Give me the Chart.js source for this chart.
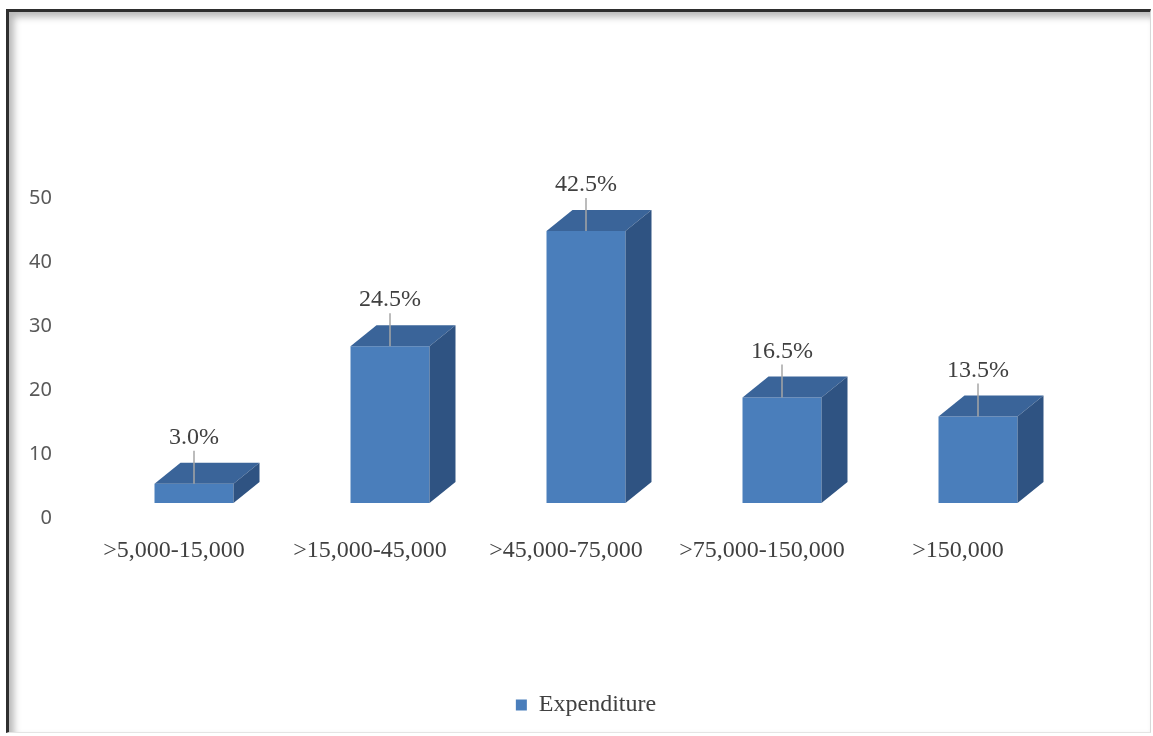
<!DOCTYPE html>
<html>
<head>
<meta charset="utf-8">
<script src="https://cdn.jsdelivr.net/npm/chart.js@4.4.1/dist/chart.umd.min.js"></script>
<style>
  html, body { margin: 0; padding: 0; background: #ffffff; }
  #wrap { position: relative; width: 1153px; height: 736px; overflow: hidden; }
  #frame {
    position: absolute; left: 6px; top: 9px; right: 2px; bottom: 3px;
    border-top: 3px solid #2e2e2e; border-left: 3px solid #2e2e2e;
    border-right: 1px solid #d8d8d8; border-bottom: 1px solid #e4e4e4;
    box-shadow: inset 5px 5px 7px rgba(0,0,0,0.28);
  }
  canvas { position: absolute; left: 0; top: 0; }
</style>
</head>
<body>
<div id="wrap">
  <div id="frame"></div>
  <canvas id="c" width="1153" height="736"></canvas>
</div>
<script>
const categories = ['>5,000-15,000', '>15,000-45,000', '>45,000-75,000', '>75,000-150,000', '>150,000'];
const expenditure = [3.0, 24.5, 42.5, 16.5, 13.5];
const seriesName = 'Expenditure';
const yMin = 0, yMax = 50, yStep = 10;

const FRONT = '#4A7EBB', TOP = '#3A6499', SIDE = '#2F5382';
const DX = 26, DY = 21;

const bar3d = {
  id: 'bar3d',
  afterDatasetsDraw(chart) {
    const ctx = chart.ctx;
    const meta = chart.getDatasetMeta(0);
    const data = chart.data.datasets[0].data;
    meta.data.forEach((el, i) => {
      const p = el.getProps(['x', 'y', 'base', 'width'], true);
      const l = p.x - p.width / 2, r = p.x + p.width / 2, t = p.y, b = p.base;
      ctx.save();
      ctx.fillStyle = TOP;
      ctx.beginPath();
      ctx.moveTo(l, t); ctx.lineTo(r, t); ctx.lineTo(r + DX, t - DY); ctx.lineTo(l + DX, t - DY); ctx.closePath();
      ctx.fill();
      ctx.fillStyle = SIDE;
      ctx.beginPath();
      ctx.moveTo(r, t); ctx.lineTo(r + DX, t - DY); ctx.lineTo(r + DX, b - DY); ctx.lineTo(r, b); ctx.closePath();
      ctx.fill();
      ctx.strokeStyle = '#a6a6a6';
      ctx.lineWidth = 1.5;
      ctx.beginPath();
      ctx.moveTo(p.x, t - 33); ctx.lineTo(p.x, t);
      ctx.stroke();
      ctx.fillStyle = '#404040';
      ctx.font = '24px "Liberation Serif", "Times New Roman", serif';
      ctx.textAlign = 'center';
      ctx.textBaseline = 'middle';
      ctx.fillText(Number(data[i]).toFixed(1) + '%', p.x, t - 46);
      ctx.restore();
    });
  }
};

new Chart(document.getElementById('c'), {
  type: 'bar',
  data: {
    labels: categories,
    datasets: [{
      label: seriesName,
      data: expenditure,
      backgroundColor: FRONT,
      borderWidth: 0,
      categoryPercentage: 1.0,
      barPercentage: 0.403
    }]
  },
  options: {
    responsive: false,
    animation: false,
    layout: { padding: { left: 0, right: 77, top: 183, bottom: 9 } },
    scales: {
      x: {
        grid: { display: false, drawTicks: false },
        border: { display: false },
        ticks: {
          color: '#404040',
          font: { family: '"Liberation Serif", "Times New Roman", serif', size: 24 },
          padding: 33,
          labelOffset: -20,
          maxRotation: 0,
          autoSkip: false
        },
        afterFit(s) { s.height = 180; }
      },
      y: {
        min: yMin, max: yMax,
        grid: { display: false, drawTicks: false },
        border: { display: false },
        ticks: {
          stepSize: yStep,
          color: '#595959',
          font: { family: '"Noto Sans", "Open Sans", sans-serif', size: 20 },
          padding: 44,
          labelOffset: 15
        },
        afterFit(s) { s.width = 96; }
      }
    },
    plugins: {
      legend: {
        position: 'bottom',
        fullSize: false,
        labels: {
          color: '#404040',
          font: { family: '"Liberation Serif", "Times New Roman", serif', size: 24 },
          boxWidth: 11, boxHeight: 11, padding: 10
        }
      },
      tooltip: { enabled: false }
    }
  },
  plugins: [bar3d]
});
</script>
</body>
</html>
